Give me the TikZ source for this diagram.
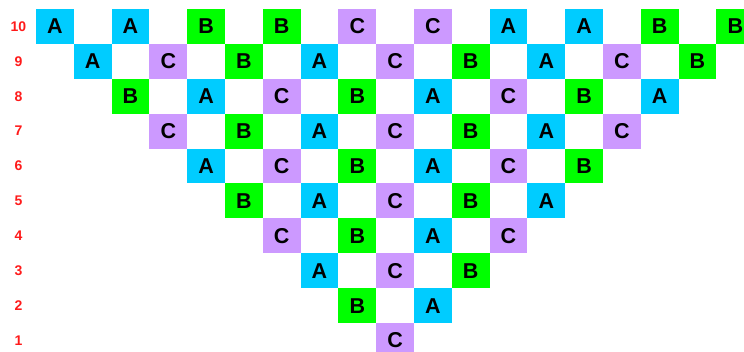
\documentclass[tikz,border=0pt]{standalone}
\usepackage{fontspec}
\setmainfont{Liberation Sans}
\usepackage{tikz}
\definecolor{colA}{HTML}{00CCFF}
\definecolor{colB}{HTML}{00FF00}
\definecolor{colC}{HTML}{CC99FF}
\definecolor{rowred}{HTML}{FF1A1A}

\begin{document}
\begin{tikzpicture}[x=1pt,y=1pt,
            cell/.style={rectangle, inner sep=0pt, minimum width=37.8pt, minimum height=34.9pt,
                         font=\fontsize{21.5}{21.5}\selectfont\bfseries},
            cellA/.style={cell, fill=colA},
            cellB/.style={cell, fill=colB},
            cellC/.style={cell, fill=colC},
            rowlab/.style={text=rowred, font=\fontsize{14}{14}\selectfont\bfseries}]
        \useasboundingbox (0,0) rectangle (744,352);
        \clip (0,0) rectangle (744,352);
        % rows from top (10) down to the tip (1)
        \foreach \r/\seq in {10/{A,A,B,B,C,C,A,A,B,B}, 9/{A,C,B,A,C,B,A,C,B},
                             8/{B,A,C,B,A,C,B,A}, 7/{C,B,A,C,B,A,C}, 6/{A,C,B,A,C,B},
                             5/{B,A,C,B,A}, 4/{C,B,A,C}, 3/{A,C,B}, 2/{B,A}, 1/{C}} {
          \pgfmathsetmacro{\yc}{352-9-17.45-(10-\r)*34.9}
          \node[rowlab] (lab\r) at (18.5,\yc) {\r};
          \foreach \c [count=\i from 0] in \seq {
            \pgfmathsetmacro{\xc}{36+18.9+(10-\r+2*\i)*37.8}
            \node[cell\c] (c\r-\i) at (\xc,\yc) {\c};
          }
        }
      \end{tikzpicture}
\end{document}
